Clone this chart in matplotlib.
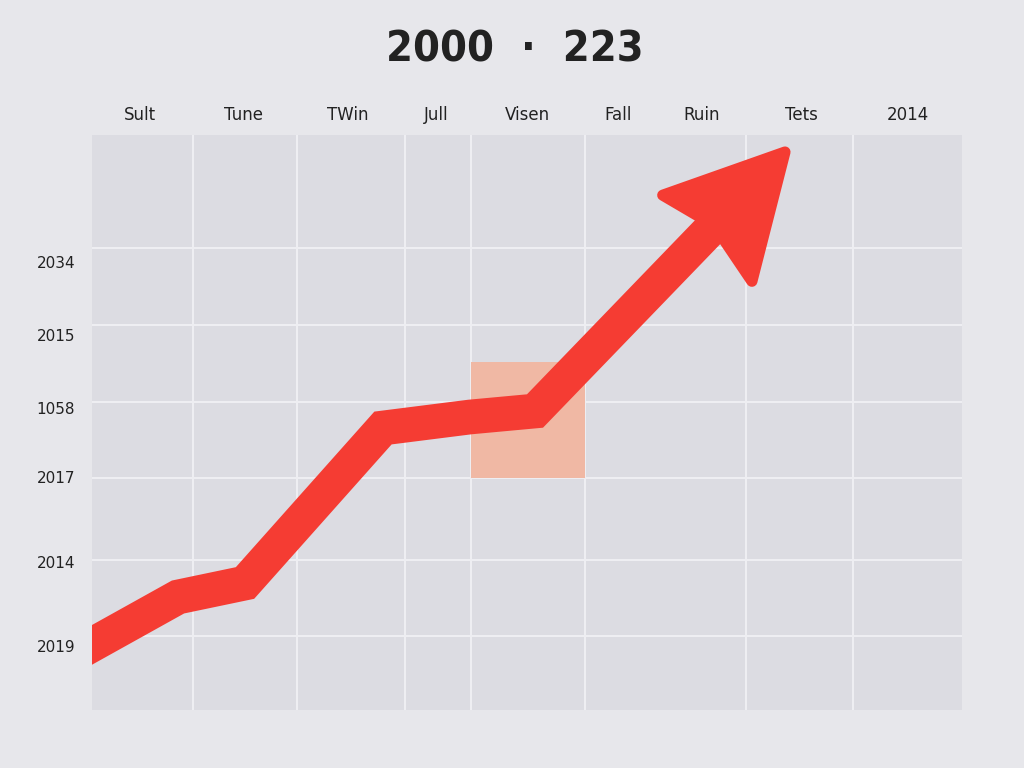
import numpy as np
import matplotlib.pyplot as plt
from matplotlib.patches import Rectangle, Polygon

# chart data
title = "2000  \u00b7  223"
top_labels = ["Sult", "Tune", "TWin", "Jull", "Visen", "Fall", "Ruin", "Tets", "2014"]
top_pos = [48, 152, 256, 344, 435, 526, 610, 709, 816]
left_labels = ["2034", "2015", "1058", "2017", "2014", "2019"]
left_pos = [448, 375, 302, 233, 148, 64]
grid_x = [101, 205, 313, 379, 493, 654, 761]
grid_y = [462, 385, 308, 232, 150, 74]

line_x = [-20, 86, 153, 291, 378, 443]
line_y = [54, 113, 127, 282, 293, 299]
tip = (693, 558)

highlight_x = (379, 493)
highlight_y = (232, 348)

red = "#f53c33"
fig = plt.figure(figsize=(10.24, 7.68), dpi=100, facecolor="#e7e7eb")
ax = fig.add_axes([92 / 1024, 58 / 768, 870 / 1024, 575 / 768])
ax.set_facecolor("#dcdce2")
ax.set_xlim(0, 870)
ax.set_ylim(0, 575)
for s in ax.spines.values():
    s.set_visible(False)

ax.set_xticks(grid_x)
ax.set_yticks(grid_y)
ax.grid(True, which="major", color="#efeff3", lw=1.4)
ax.set_axisbelow(True)

ax.set_xticks(top_pos, top_labels, minor=True)
ax.xaxis.set_ticks_position("top")
ax.tick_params(axis="x", which="minor", length=0, pad=8, labelsize=12,
               labelcolor="#222222", labeltop=True, labelbottom=False)
ax.set_yticks(left_pos, left_labels, minor=True)
ax.tick_params(axis="y", which="minor", length=0, pad=40, labelsize=11,
               labelcolor="#222222")
ax.tick_params(which="major", length=0, labelbottom=False, labelleft=False,
               labeltop=False)
for t in ax.get_yticklabels(minor=True):
    t.set_horizontalalignment("left")

ax.add_patch(Rectangle((highlight_x[0], highlight_y[0]),
                       highlight_x[1] - highlight_x[0],
                       highlight_y[1] - highlight_y[0],
                       facecolor="#f0b8a4", edgecolor="none", zorder=2))

# arrow head from the last segment direction
u = np.array(tip) - np.array([line_x[-1], line_y[-1]])
u = u / np.linalg.norm(u)
n = np.array([-u[1], u[0]])
head_len, head_w = 116, 124
base = np.array(tip) - head_len * u
xs = line_x + [base[0] + 20 * u[0]]
ys = line_y + [base[1] + 20 * u[1]]
ax.plot(xs, ys, color=red, lw=25, solid_joinstyle="miter",
        solid_capstyle="butt", zorder=3)
head = [tip, base + n * head_w / 2 - 4 * n, base + 14 * u,
        base - n * head_w / 2 - 4 * n]
ax.add_patch(Polygon(head, closed=True, facecolor=red, edgecolor=red,
                     lw=8, joinstyle="round", zorder=4))

fig.text(515 / 1024, 1 - 49 / 768, title, ha="center", va="center",
         fontsize=31, fontweight="bold", fontstretch="condensed",
         color="#222222", family=["DejaVu Sans"])

fig.savefig("out.png", dpi=100, facecolor=fig.get_facecolor())
